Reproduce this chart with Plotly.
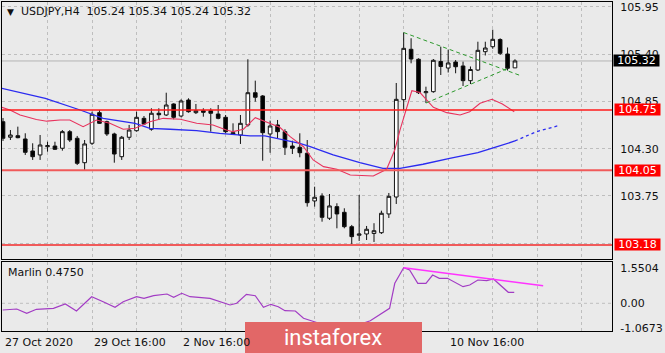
import plotly.graph_objects as go

# ---------------- data ----------------
bar_open = [104.614, 104.433, 104.451, 104.413, 104.273, 104.227, 104.323, 104.331, 104.305, 104.498,
            104.421, 104.137, 104.363, 104.719, 104.614, 104.471, 104.207, 104.433, 104.509, 104.653,
            104.526, 104.712, 104.692, 104.820, 104.680, 104.866, 104.719, 104.742, 104.742, 104.703,
            104.665, 104.486, 104.459, 104.576, 104.951, 104.913, 104.471, 104.576, 104.498, 104.331,
            104.316, 104.247, 103.692, 103.750, 103.491, 103.626, 103.560, 103.393, 103.293, 103.308,
            103.314, 103.323, 103.541, 103.738, 104.870, 105.456, 105.340, 104.951, 104.963, 105.314,
            105.238, 105.308, 105.262, 105.091, 105.215, 105.428, 105.486, 105.570, 105.401, 105.24]
bar_high = [104.657, 104.517, 104.556, 104.479, 104.363, 104.459, 104.381, 104.381, 104.517, 104.517,
            104.448, 104.401, 104.730, 104.750, 104.626, 104.486, 104.448, 104.576, 104.730, 104.680,
            104.770, 104.770, 104.951, 104.828, 104.874, 104.886, 104.820, 104.770, 104.770, 104.808,
            104.692, 104.595, 104.692, 105.340, 105.091, 104.924, 104.626, 104.634, 104.526, 104.393,
            104.479, 104.401, 103.858, 103.781, 103.773, 103.665, 103.607, 103.413, 103.762, 103.401,
            103.433, 103.579, 103.785, 105.064, 105.651, 105.584, 105.351, 105.021, 105.343, 105.486,
            105.453, 105.331, 105.312, 105.256, 105.544, 105.544, 105.684, 105.584, 105.477, 105.34]
bar_low = [104.390, 104.401, 104.421, 104.227, 104.169, 104.169, 104.265, 104.285, 104.277, 104.378,
           104.110, 104.052, 104.343, 104.587, 104.448, 104.137, 104.169, 104.401, 104.498, 104.576,
           104.509, 104.634, 104.680, 104.642, 104.665, 104.719, 104.703, 104.672, 104.498, 104.642,
           104.479, 104.459, 104.355, 104.556, 104.847, 104.160, 104.253, 104.421, 104.227, 104.238,
           104.200, 103.626, 103.626, 103.451, 103.471, 103.374, 103.374, 103.192, 103.227, 103.238,
           103.215, 103.308, 103.494, 103.657, 104.750, 105.293, 104.936, 104.831, 104.951, 105.157,
           105.186, 105.177, 105.029, 105.052, 105.203, 105.384, 105.462, 105.390, 105.209, 105.24]
bar_close = [104.421, 104.459, 104.428, 104.258, 104.207, 104.343, 104.335, 104.293, 104.498, 104.401,
             104.130, 104.355, 104.700, 104.595, 104.471, 104.238, 104.433, 104.517, 104.665, 104.587,
             104.712, 104.695, 104.808, 104.665, 104.855, 104.730, 104.742, 104.723, 104.712, 104.653,
             104.498, 104.471, 104.595, 104.951, 104.898, 104.486, 104.564, 104.498, 104.316, 104.305,
             104.253, 103.672, 103.735, 103.502, 103.634, 103.541, 103.393, 103.277, 103.308, 103.363,
             103.346, 103.549, 103.746, 104.874, 105.467, 105.343, 104.951, 104.963, 105.328, 105.256,
             105.297, 105.253, 105.091, 105.221, 105.444, 105.471, 105.572, 105.409, 105.235, 105.32]
bar_pos = list(range(len(bar_open)))

x_tick_pos = [0, 12, 24, 60]
x_tick_text = ["27 Oct 2020", "29 Oct 16:00", "2 Nov 16:00", "10 Nov 16:00"]

price_ticks = [103.20, 103.75, 104.30, 104.85, 105.40, 105.95]
price_tick_text = ["", "103.75", "104.30", "104.85", "105.40", "105.95"]

levels = [104.75, 104.05, 103.18]
level_text = ["104.75", "104.05", "103.18"]
last_price = 105.32

slow_ma_x = [-0.4, 5.7, 10.4, 13.5, 17.8, 19.8, 22.5, 26.1, 29.2, 33.3, 35.3, 37.3, 40.0, 41.4,
             44.5, 48.1, 51.2, 53.5, 56.6, 60.2, 64.0, 66.6, 69.0]
slow_ma_y = [105.006, 104.886, 104.750, 104.653, 104.595, 104.537, 104.526, 104.509, 104.479,
             104.448, 104.448, 104.413, 104.363, 104.323, 104.227, 104.137, 104.072, 104.072,
             104.119, 104.188, 104.253, 104.323, 104.390]
slow_ext_x = [69.0, 71.9, 74.7]
slow_ext_y = [104.390, 104.498, 104.564]

fast_ma_x = [-0.4, 0.94, 2.3, 4.5, 5.9, 7.7, 9.0, 10.8, 12.6, 14.4, 16.2, 17.8, 19.8, 21.6, 23.9,
             26.1, 28.3, 30.1, 31.0, 32.4, 34.0, 35.3, 37.3, 38.7, 40.5, 41.8, 43.2, 45.0, 46.8,
             49.9, 51.7, 52.8, 53.5, 55.1, 56.2, 58.0, 59.8, 61.6, 62.9, 64.3, 65.9, 67.3, 68.9]
fast_ma_y = [104.788, 104.750, 104.692, 104.640, 104.620, 104.634, 104.634, 104.556, 104.634,
             104.595, 104.526, 104.537, 104.614, 104.653, 104.642, 104.595, 104.576, 104.517,
             104.498, 104.526, 104.660, 104.614, 104.549, 104.440, 104.323, 104.169, 104.091,
             104.060, 103.994, 103.983, 104.060, 104.285, 104.517, 104.974, 104.953, 104.781,
             104.719, 104.692, 104.730, 104.828, 104.874, 104.820, 104.730]

tri_upper_x = [54.0, 69.9]
tri_upper_y = [105.651, 105.145]
tri_lower_x = [57.0, 68.1]
tri_lower_y = [104.831, 105.235]

marlin_x = [-0.04, 1.85, 3.2, 4.5, 6.8, 8.4, 9.9, 11.95, 13.5, 15.1, 16.2, 18.0, 19.0, 20.3, 22.1,
            23.0, 24.1, 25.2, 27.9, 30.6, 31.5, 32.8, 34.0, 35.1, 36.1, 37.1, 38.0, 39.4, 40.5,
            42.7, 45.4, 47.4, 49.5, 51.0, 52.1, 52.8, 54.0, 54.8, 55.9, 57.0, 57.9, 58.8, 59.9,
            62.0, 62.9, 64.0, 65.2, 66.1, 67.0, 68.1, 68.9]
marlin_y = [-0.293, -0.249, -0.437, -0.262, -0.218, -0.031, -0.336, 0.288, 0.070, -0.175, 0.070,
            0.288, 0.218, 0.332, 0.406, 0.262, 0.437, 0.288, 0.218, -0.074, 0.0, 0.393, 0.332,
            -0.175, -0.044, -0.148, -0.323, -0.336, -0.655, -0.882, -1.0673, -0.99, -0.760,
            -0.437, -0.218, 0.873, 1.5504, 1.454, 0.873, 0.873, 1.236, 1.092, 1.092, 0.725, 0.799,
            1.017, 0.987, 1.061, 0.799, 0.480, 0.475]
marlin_trend_x = [54.0, 72.8]
marlin_trend_y = [1.5504, 0.769]
marlin_ticks = [1.5504, 0.0, -1.0673]
marlin_tick_text = ["1.5504", "0.00", "-1.0673"]

# ---------------- layout geometry ----------------
W, H = 665, 353
ML, MR, MT, MB = 2, 53, 2, 22
PW, PH = W - ML - MR, H - MT - MB


def px_to_paper_x(px):
    return (px - ML) / PW


def px_to_paper_y(py):
    return (H - MB - py) / PH


BG = "#EAEAEA"
GRID = "#BEBEBE"
FONT = "DejaVu Sans"

fig = go.Figure()

fig.add_trace(go.Candlestick(
    x=bar_pos, open=bar_open, high=bar_high, low=bar_low, close=bar_close,
    increasing=dict(line=dict(color="#111111", width=1), fillcolor="#FFFFFF"),
    decreasing=dict(line=dict(color="#111111", width=1), fillcolor="#000000"),
    whiskerwidth=0, xaxis="x", yaxis="y", showlegend=False, hoverinfo="skip"))

fig.add_trace(go.Scatter(x=slow_ma_x, y=slow_ma_y, mode="lines",
                         line=dict(color="#2B2BF0", width=1.3), xaxis="x", yaxis="y",
                         showlegend=False, hoverinfo="skip"))
fig.add_trace(go.Scatter(x=slow_ext_x, y=slow_ext_y, mode="lines",
                         line=dict(color="#2B2BF0", width=1.3, dash="3px,3px"), xaxis="x", yaxis="y",
                         showlegend=False, hoverinfo="skip"))
fig.add_trace(go.Scatter(x=fast_ma_x, y=fast_ma_y, mode="lines",
                         line=dict(color="#E8335E", width=1.1), xaxis="x", yaxis="y",
                         showlegend=False, hoverinfo="skip"))
for tx, ty in ((tri_upper_x, tri_upper_y), (tri_lower_x, tri_lower_y)):
    fig.add_trace(go.Scatter(x=tx, y=ty, mode="lines",
                             line=dict(color="#2E9A2E", width=1, dash="4px,3px"), xaxis="x", yaxis="y",
                             showlegend=False, hoverinfo="skip"))

fig.add_trace(go.Scatter(x=marlin_x, y=marlin_y, mode="lines",
                         line=dict(color="#A23CC4", width=1.2), xaxis="x2", yaxis="y2",
                         showlegend=False, hoverinfo="skip"))
fig.add_trace(go.Scatter(x=marlin_trend_x, y=marlin_trend_y, mode="lines",
                         line=dict(color="#FF33FF", width=1.5), xaxis="x2", yaxis="y2",
                         showlegend=False, hoverinfo="skip"))

x_range = [(ML - 3) / 7.42, (W - MR - 3) / 7.42]
main_bottom = (H - MB - 259) / PH
sub_top = (H - MB - 262) / PH

axis_common = dict(showline=True, mirror=True, linecolor="#000000", linewidth=1,
                   zeroline=False, ticks="")
fig.update_layout(
    width=W, height=H,
    margin=dict(l=ML, r=MR, t=MT, b=MB, pad=0),
    paper_bgcolor=BG, plot_bgcolor=BG,
    font=dict(family=FONT, size=11, color="#111111"),
    xaxis=dict(domain=[0, 1], range=x_range, anchor="y", showticklabels=False,
               showgrid=True, gridcolor=GRID, griddash="3px,3px", gridwidth=1,
               tick0=0, dtick=6, rangeslider=dict(visible=False), **axis_common),
    xaxis2=dict(domain=[0, 1], range=x_range, anchor="y2", matches="x", showticklabels=False,
                showgrid=True, gridcolor=GRID, griddash="3px,3px", gridwidth=1,
                tick0=0, dtick=6, **axis_common),
    yaxis=dict(domain=[main_bottom, 1], range=[103.017, 106.006], side="right", anchor="x",
               tickvals=price_ticks, ticktext=price_tick_text, ticklabelstandoff=5,
               showgrid=True, gridcolor=GRID, griddash="3px,3px", gridwidth=1,
               tickfont=dict(family=FONT, size=11, color="#111111"), **axis_common),
    yaxis2=dict(domain=[0, sub_top], range=[-1.2096, 1.8035], side="right", anchor="x2",
                tickvals=marlin_ticks, ticktext=marlin_tick_text, ticklabelstandoff=5,
                showgrid=False,
                tickfont=dict(family=FONT, size=11, color="#111111"), **axis_common),
)

shapes = []
shapes.append(dict(type="line", xref="x domain", yref="y", x0=0, x1=1, y0=last_price, y1=last_price,
                   line=dict(color="#B4B4B4", width=1), layer="below"))
for lv, wdt, col in zip(levels, [1.5, 2, 2], ["#FF1A1A", "#F05A5A", "#F05A5A"]):
    shapes.append(dict(type="line", xref="x domain", yref="y", x0=0, x1=1, y0=lv, y1=lv,
                       line=dict(color=col, width=wdt)))
shapes.append(dict(type="line", xref="x2 domain", yref="y2", x0=0, x1=1, y0=0, y1=0,
                   line=dict(color=GRID, width=1, dash="3px,3px"), layer="below"))
shapes.append(dict(type="rect", xref="paper", yref="paper",
                   x0=px_to_paper_x(245), x1=px_to_paper_x(422),
                   y0=px_to_paper_y(353), y1=px_to_paper_y(322),
                   fillcolor="#E26767", line=dict(width=0), layer="above"))
fig.update_layout(shapes=shapes)

ann = []
ann.append(dict(xref="paper", yref="paper", x=px_to_paper_x(5), y=px_to_paper_y(12),
                text="▼", showarrow=False, xanchor="left", yanchor="middle",
                font=dict(family=FONT, size=9, color="#111111")))
ann.append(dict(xref="paper", yref="paper", x=px_to_paper_x(19), y=px_to_paper_y(12),
                text="USDJPY,H4\u00a0\u00a0105.24 105.34 105.24 105.32", showarrow=False,
                xanchor="left", yanchor="middle", font=dict(family=FONT, size=11, color="#111111")))
ann.append(dict(xref="paper", yref="paper", x=px_to_paper_x(6), y=px_to_paper_y(272),
                text="Marlin 0.4750", showarrow=False, xanchor="left", yanchor="middle",
                font=dict(family=FONT, size=11, color="#111111")))
for xp, tt in zip(x_tick_pos, x_tick_text):
    ann.append(dict(xref="x2", yref="paper", x=xp, y=px_to_paper_y(342), text=tt,
                    showarrow=False, xanchor="left", yanchor="middle",
                    font=dict(family=FONT, size=11, color="#111111")))
ann.append(dict(xref="paper", yref="y", x=px_to_paper_x(613), y=last_price, text="105.32",
                showarrow=False, xanchor="left", yanchor="middle", bgcolor="#000000",
                width=45, height=11, borderpad=0, align="center",
                font=dict(family=FONT, size=11, color="#FFFFFF")))
for lv, tt in zip(levels, level_text):
    ann.append(dict(xref="paper", yref="y", x=px_to_paper_x(614), y=lv, text=tt,
                    showarrow=False, xanchor="left", yanchor="middle", bgcolor="#FF0000",
                    width=45, height=11, borderpad=0, align="center",
                    font=dict(family=FONT, size=11, color="#FFFFFF")))
ann.append(dict(xref="paper", yref="paper", x=px_to_paper_x(333), y=px_to_paper_y(337),
                text="instaforex", showarrow=False, xanchor="center", yanchor="middle",
                font=dict(family="Roboto", size=22, color="#FFFFFF")))
fig.update_layout(annotations=ann)

fig.write_html("out.html", config={"displayModeBar": False})
